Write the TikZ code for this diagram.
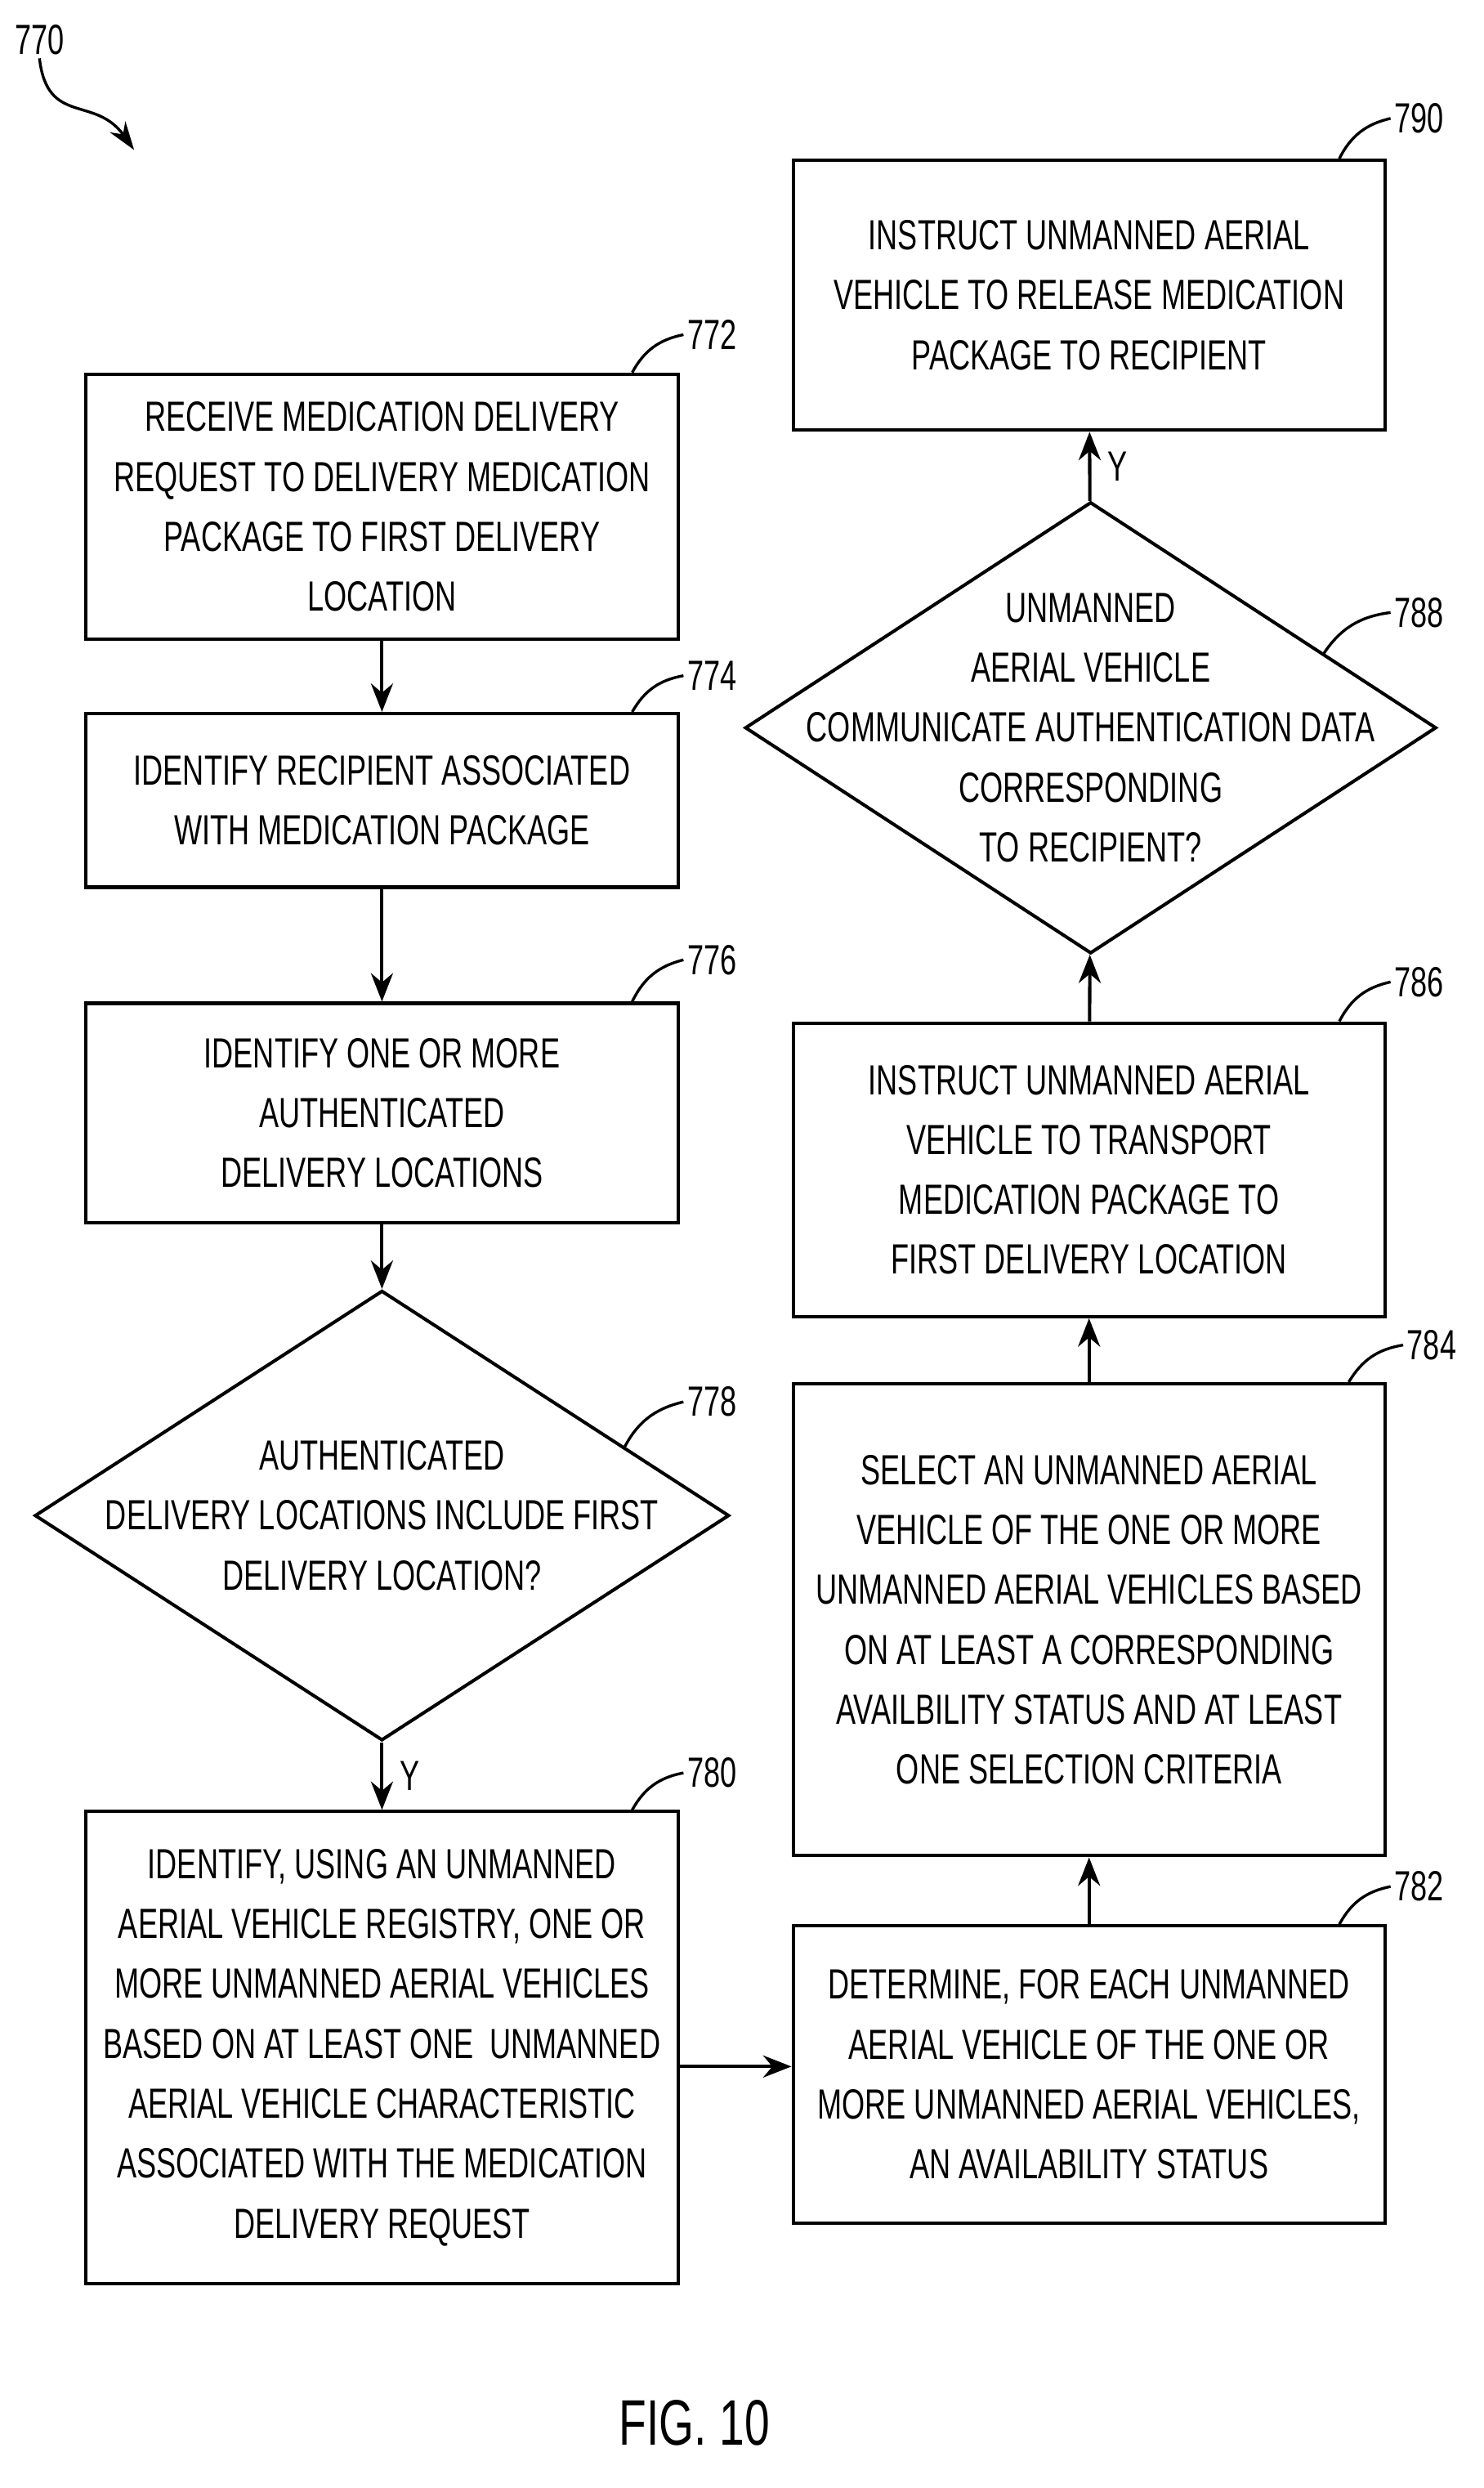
\documentclass[tikz,border=0pt]{standalone}
\usepackage{fontspec}
\setmainfont{Liberation Sans}[FakeStretch=0.7]
\usetikzlibrary{positioning,shapes.geometric,arrows.meta}
\tikzset{proc/.style={draw,line width=3pt,minimum width=18.75cm,align=center,inner sep=0pt},
	 test/.style={draw,line width=3pt,diamond,aspect=1,inner sep=0pt},
	 flow/.style={line width=3pt,-{Stealth[length=0.9cm,width=0.7cm]}},
	 ref/.style={line width=2.5pt,bend left=25},
	 num/.style={anchor=west}
	 }
\begin{document}
\begin{tikzpicture}[x=0.05cm,y=-0.05cm,font=\fontsize{38}{54}\selectfont]
	\useasboundingbox (0,0) rectangle (940,1576);
	% left column
	\node[proc,minimum height=8.4cm] (b772) at (242,321) {RECEIVE MEDICATION DELIVERY\\REQUEST TO DELIVERY MEDICATION\\PACKAGE TO FIRST DELIVERY\\LOCATION};
	\node[proc,minimum height=5.5cm] (b774) at (242,507) {IDENTIFY RECIPIENT ASSOCIATED\\WITH MEDICATION PACKAGE};
	\node[proc,minimum height=6.95cm] (b776) at (242,705) {IDENTIFY ONE OR MORE\\AUTHENTICATED\\DELIVERY LOCATIONS};
	\node[test,minimum width=22cm,minimum height=14.25cm] (d778) at (242,960) {};
	\node[align=center] (t778) at (d778) {AUTHENTICATED\\DELIVERY LOCATIONS INCLUDE FIRST\\DELIVERY LOCATION?};
	\node[proc,minimum height=14.95cm] (b780) at (242,1297) {IDENTIFY, USING AN UNMANNED\\AERIAL VEHICLE REGISTRY, ONE OR\\MORE UNMANNED AERIAL VEHICLES\\BASED ON AT LEAST ONE\ \ UNMANNED\\AERIAL VEHICLE CHARACTERISTIC\\ASSOCIATED WITH THE MEDICATION\\DELIVERY REQUEST};
	% right column
	\node[proc,minimum height=9.4cm] (b782) at (690,1314) {DETERMINE, FOR EACH UNMANNED\\AERIAL VEHICLE OF THE ONE OR\\MORE UNMANNED AERIAL VEHICLES,\\AN AVAILABILITY STATUS};
	\node[proc,minimum height=14.95cm] (b784) at (690,1026) {SELECT AN UNMANNED AERIAL\\VEHICLE OF THE ONE OR MORE\\UNMANNED AERIAL VEHICLES BASED\\ON AT LEAST A CORRESPONDING\\AVAILBILITY STATUS AND AT LEAST\\ONE SELECTION CRITERIA};
	\node[proc,minimum height=9.3cm] (b786) at (690,741) {INSTRUCT UNMANNED AERIAL\\VEHICLE TO TRANSPORT\\MEDICATION PACKAGE TO\\FIRST DELIVERY LOCATION};
	\node[test,minimum width=21.9cm,minimum height=14.3cm] (d788) at (691,461) {};
	\node[align=center] (t788) at (d788) {UNMANNED\\AERIAL VEHICLE\\COMMUNICATE AUTHENTICATION DATA\\CORRESPONDING\\TO RECIPIENT?};
	\node[proc,minimum height=8.55cm] (b790) at (690,187) {INSTRUCT UNMANNED AERIAL\\VEHICLE TO RELEASE MEDICATION\\PACKAGE TO RECIPIENT};
	% connectors
	\draw[flow] (b772) -- (b774);
	\draw[flow] (b774) -- (b776);
	\draw[flow] (b776) -- (d778);
	\draw[flow] (d778) -- node[right,xshift=0.4cm] {Y} (b780);
	\draw[flow] ([yshift=-0.6cm]b780.east) -- ([yshift=-0.6cm]b780.east -| b782.west);
	\draw[flow] (b782) -- (b784);
	\draw[flow] (b784) -- (b786);
	\draw[flow] (b786) -- (d788);
	\draw[flow] (d788) -- node[right,xshift=0.4cm] {Y} (b790);
	% reference numerals
	\node[num] (n772) at (433,212) {772};
	\node[num] (n774) at (433,428) {774};
	\node[num] (n776) at (433,608) {776};
	\node[num] (n778) at (433,888) {778};
	\node[num] (n780) at (433,1123) {780};
	\node[num] (n782) at (881,1195) {782};
	\node[num] (n784) at (889,852) {784};
	\node[num] (n786) at (881,622) {786};
	\node[num] (n788) at (881,388) {788};
	\node[num] (n790) at (881,75) {790};
	\draw[ref] ([xshift=-1.5cm]b772.north east) to (n772.west);
	\draw[ref] ([xshift=-1.5cm]b774.north east) to (n774.west);
	\draw[ref] ([xshift=-1.5cm]b776.north east) to (n776.west);
	\draw[ref] (395,918) to (n778.west);
	\draw[ref] ([xshift=-1.5cm]b780.north east) to (n780.west);
	\draw[ref] ([xshift=-1.5cm]b782.north east) to (n782.west);
	\draw[ref] ([xshift=-1.2cm]b784.north east) to (n784.west);
	\draw[ref] ([xshift=-1.5cm]b786.north east) to (n786.west);
	\draw[ref] (838,415) to (n788.west);
	\draw[ref] ([xshift=-1.5cm]b790.north east) to (n790.west);
	% figure reference
	\node (n770) at (25,25) {770};
	\coordinate (t770) at (85,95);
	\draw[line width=2.5pt,-{Stealth[length=0.9cm,width=0.6cm]}] (n770.south) .. controls (30,80) and (60,60) .. (t770);
	\node[font=\fontsize{58}{70}\selectfont] (fig) at (440,1535) {FIG. 10};
\end{tikzpicture}
\end{document}
